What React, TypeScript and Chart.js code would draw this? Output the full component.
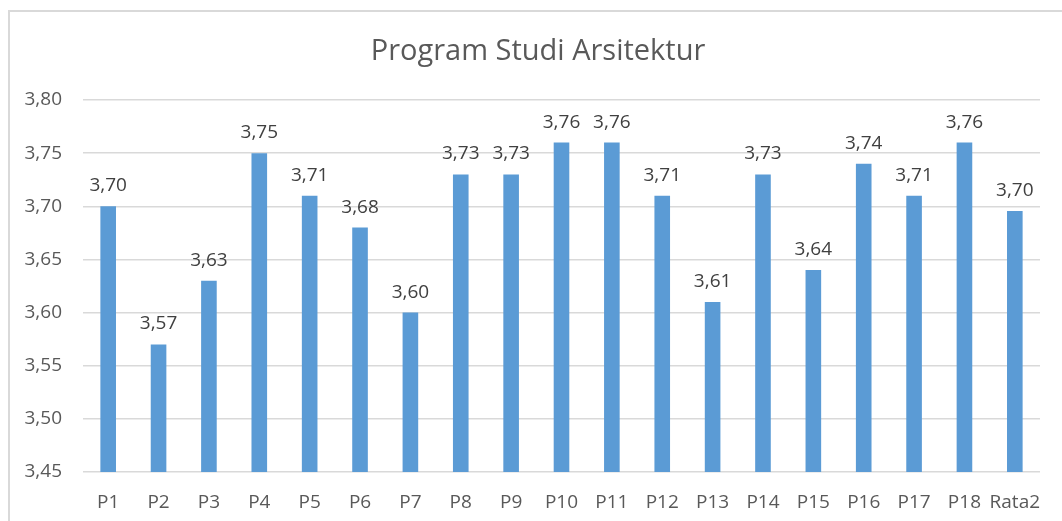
import React, { useEffect, useRef } from "react";
import { Chart, registerables } from "chart.js";

Chart.register(...registerables);

const categories = ["P1", "P2", "P3", "P4", "P5", "P6", "P7", "P8", "P9", "P10", "P11", "P12", "P13", "P14", "P15", "P16", "P17", "P18", "Rata2"];
const values = [3.70, 3.57, 3.63, 3.75, 3.71, 3.68, 3.60, 3.73, 3.73, 3.76, 3.76, 3.71, 3.61, 3.73, 3.64, 3.74, 3.71, 3.76, 3.6956];
const yMin = 3.45;
const yMax = 3.80;
const yStep = 0.05;
const title = "Program Studi Arsitektur";

const fmt = (v: number) => Number(v).toFixed(2).replace(".", ",");

const FONT = "'Open Sans', 'DejaVu Sans', sans-serif";

const dataLabelPlugin = {
  id: "barValueLabels",
  afterDatasetsDraw(chart: any) {
    const ctx = chart.ctx;
    const meta = chart.getDatasetMeta(0);
    const data = chart.data.datasets[0].data as number[];
    ctx.save();
    ctx.font = `19px ${FONT}`;
    ctx.fillStyle = "#404040";
    ctx.textAlign = "center";
    ctx.textBaseline = "alphabetic";
    meta.data.forEach((el: any, i: number) => {
      ctx.fillText(fmt(data[i]), el.x, el.y - 15);
    });
    ctx.restore();
  },
};

// Title centred on the (wider) chart frame, as in the original office chart
const titlePlugin = {
  id: "frameTitle",
  afterDraw(chart: any) {
    const ctx = chart.ctx;
    ctx.save();
    ctx.font = `29px ${FONT}`;
    ctx.fillStyle = "#595959";
    ctx.textAlign = "center";
    ctx.textBaseline = "alphabetic";
    ctx.fillText(title, (chart.width + 14) / 2, 60);
    ctx.restore();
  },
};

export default function App() {
  const ref = useRef<HTMLCanvasElement | null>(null);

  useEffect(() => {
    if (!ref.current) return;
    const chart = new Chart(ref.current, {
      type: "bar",
      data: {
        labels: categories,
        datasets: [
          {
            data: values,
            backgroundColor: "#5B9BD5",
            borderWidth: 0,
            barPercentage: 0.31,
            categoryPercentage: 1,
          },
        ],
      },
      options: {
        animation: false,
        responsive: false,
        maintainAspectRatio: false,
        layout: { padding: { top: 100, right: 22, bottom: 10, left: 0 } },
        plugins: {
          legend: { display: false },
          tooltip: { enabled: false },
          title: { display: false },
        },
        scales: {
          x: {
            afterFit(scale: any) {
              scale.height = 39;
            },
            grid: { display: false, drawTicks: false },
            border: { display: false },
            ticks: {
              color: "#595959",
              font: { family: FONT, size: 19 },
              padding: 19,
              maxRotation: 0,
              minRotation: 0,
              autoSkip: false,
            },
          },
          y: {
            min: yMin,
            max: yMax,
            afterFit(scale: any) {
              scale.width = 83;
            },
            grid: { color: "#d9d9d9", lineWidth: 1.5, drawTicks: false },
            border: { display: false },
            ticks: {
              stepSize: yStep,
              color: "#595959",
              font: { family: FONT, size: 19 },
              padding: 21,
              callback: (v: any) => fmt(Number(v)),
            },
          },
        },
      },
      plugins: [dataLabelPlugin, titlePlugin],
    });
    return () => chart.destroy();
  }, []);

  return (
    <div
      style={{
        position: "absolute",
        left: 0,
        top: 0,
        width: 1062,
        height: 521,
        overflow: "hidden",
        background: "#ffffff",
      }}
    >
      <div
        style={{
          position: "absolute",
          left: 8,
          top: 10,
          width: 1200,
          height: 700,
          border: "2px solid #d9d9d9",
          boxSizing: "border-box",
        }}
      />
      <canvas
        ref={ref}
        width={1062}
        height={521}
        style={{ position: "absolute", left: 0, top: 0, width: 1062, height: 521 }}
      />
    </div>
  );
}
